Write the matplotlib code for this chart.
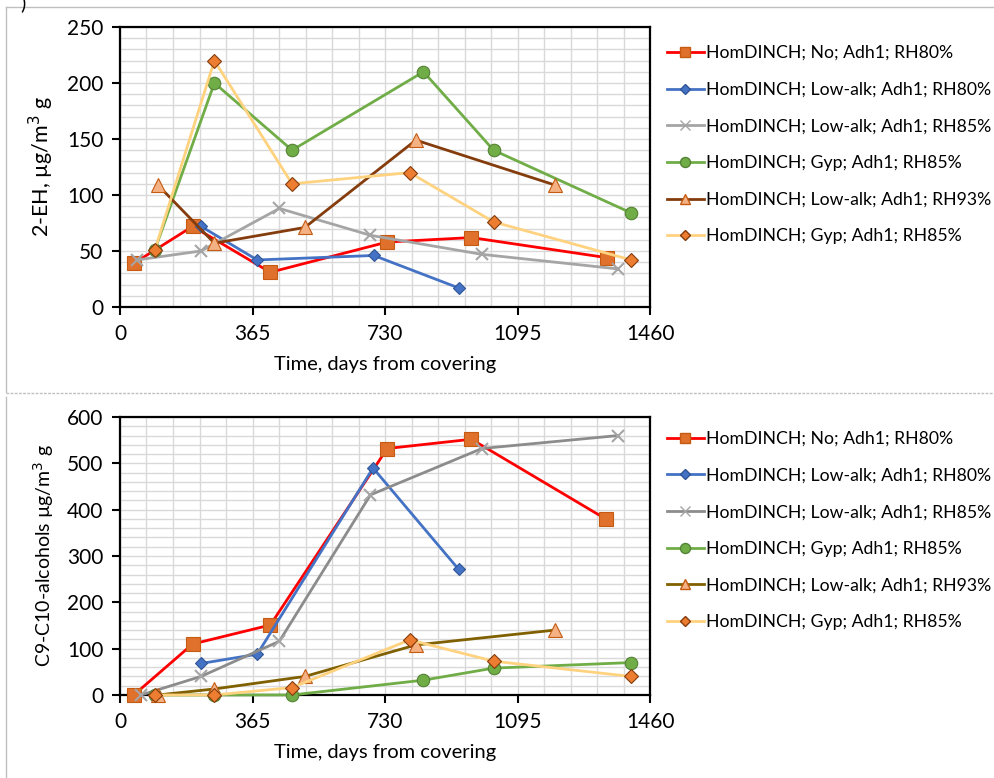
import numpy as np
import matplotlib.pyplot as plt
from matplotlib.lines import Line2D
from matplotlib.ticker import MultipleLocator

plt.rcParams['font.family'] = ['Lato', 'DejaVu Sans']

labels = ['HomDINCH; No; Adh1; RH80%',
          'HomDINCH; Low-alk; Adh1; RH80%',
          'HomDINCH; Low-alk; Adh1; RH85%',
          'HomDINCH; Gyp; Adh1; RH85%',
          'HomDINCH; Low-alk; Adh1; RH93%',
          'HomDINCH; Gyp; Adh1; RH85%']

# top chart: 2-EH
eh_days = [
    [38, 200, 414, 736, 968, 1342],
    [223, 378, 699, 933],
    [46, 223, 439, 690, 997, 1372],
    [96, 260, 474, 836, 1029, 1408],
    [104, 260, 509, 815, 1197],
    [96, 260, 474, 798, 1029, 1408],
]
eh_vals = [
    [39, 72, 31, 58, 62, 44],
    [72, 42, 46, 17],
    [42, 50, 88, 64, 47, 34],
    [51, 200, 140, 210, 140, 84],
    [109, 57, 71, 149, 109],
    [51, 220, 110, 120, 76, 42],
]

# bottom chart: C9-C10 alcohols
alc_days = [
    [38, 200, 414, 736, 968, 1340],
    [223, 378, 697, 933],
    [58, 223, 439, 690, 997, 1372],
    [96, 260, 474, 836, 1029, 1408],
    [104, 260, 509, 815, 1197],
    [96, 260, 474, 798, 1029, 1408],
]
alc_vals = [
    [0, 110, 151, 532, 552, 379],
    [68, 88, 490, 271],
    [0, 40, 116, 432, 532, 560],
    [0, 0, 0, 32, 58, 70],
    [0, 13, 40, 108, 140],
    [0, 0, 16, 119, 73, 40],
]

# line colour, marker, marker face, marker edge, marker size
styles = [
    ('#FF0000', 's', '#E0712C', '#C55A11', 9.5),
    ('#4472C4', 'D', '#4472C4', '#2F5597', 6),
    ('#A5A5A5', 'x', '#A5A5A5', '#A5A5A5', 9),
    ('#70AD47', 'o', '#70AD47', '#548235', 9),
    ('#843C0C', '^', '#F4B183', '#C55A11', 9.5),
    ('#FFD27F', 'D', '#ED7D31', '#843C0C', 7),
]
bottom_lines = {2: '#8C8C8C', 4: '#806000'}


def draw_panel(ax, days, vals, ymax, ystep, yminor, ylabel, ysize, line_over=None):
    for i in range(len(days)):
        lc, mk, mf, me, ms = styles[i]
        if line_over and i in line_over:
            lc = line_over[i]
        ax.plot(days[i], vals[i], color=lc, lw=2, marker=mk, markersize=ms,
                markerfacecolor=mf, markeredgecolor=me, markeredgewidth=0.8 if mk != 'x' else 1.5,
                clip_on=False, zorder=3 + i)
    ax.set_xlim(0, 1460)
    ax.set_ylim(0, ymax)
    ax.set_xticks([0, 365, 730, 1095, 1460])
    ax.set_yticks(np.arange(0, ymax + 1, ystep))
    ax.xaxis.set_minor_locator(MultipleLocator(73))
    ax.yaxis.set_minor_locator(MultipleLocator(yminor))
    ax.grid(which='both', color='#D9D9D9', lw=1)
    ax.set_axisbelow(True)
    for s in ax.spines.values():
        s.set_linewidth(1.6)
        s.set_color('black')
    ax.tick_params(which='major', direction='out', length=6, width=1.5,
                   labelsize=15, pad=6)
    ax.tick_params(which='minor', length=0)
    ax.set_xlabel('Time, days from covering', fontsize=14.5, labelpad=9)
    ax.set_ylabel(ylabel, fontsize=ysize, labelpad=8)


fig = plt.figure(figsize=(9.95, 7.78), dpi=100)
ax1 = fig.add_axes([0.1206, 0.6054, 0.5327, 0.3599])
ax2 = fig.add_axes([0.1206, 0.1067, 0.5327, 0.3573])

draw_panel(ax1, eh_days, eh_vals, 250, 50, 10, '2-EH, µg/m$^3$ g', 15.5)
draw_panel(ax2, alc_days, alc_vals, 600, 100, 20, 'C9-C10-alcohols µg/m$^3$ g', 14,
           line_over=bottom_lines)

for ax, top, over in [(ax1, 0.942, None), (ax2, 0.446, bottom_lines)]:
    handles = []
    for i in range(len(labels)):
        lc, mk, mf, me, ms = styles[i]
        if over and i in over:
            lc = over[i]
        handles.append(Line2D([0], [0], color=lc, lw=2, marker=mk, markersize=ms * 0.8,
                              markerfacecolor=mf, markeredgecolor=me))
    fig.legend(handles, labels, loc='upper left', bbox_to_anchor=(0.670, top),
               frameon=False, fontsize=12.7, handlelength=2.1, handletextpad=0.15,
               labelspacing=1.17, borderaxespad=0, borderpad=0)

# panel frames
fig.add_artist(Line2D([6 / 995, 1], [1 - 7 / 778] * 2, color='#BFBFBF', lw=1))
fig.add_artist(Line2D([6 / 995] * 2, [1 - 7 / 778, 1 - 392 / 778], color='#BFBFBF', lw=1))
fig.add_artist(Line2D([6 / 995, 1], [1 - 393 / 778] * 2, color='#BFBFBF', lw=1, ls=(0, (2, 1))))
fig.add_artist(Line2D([6 / 995] * 2, [1 - 397 / 778, 0], color='#BFBFBF', lw=1))
fig.text(20 / 995, 1 + 6 / 778, ')', fontsize=14, va='top')

fig.savefig('out.png', dpi=100)
